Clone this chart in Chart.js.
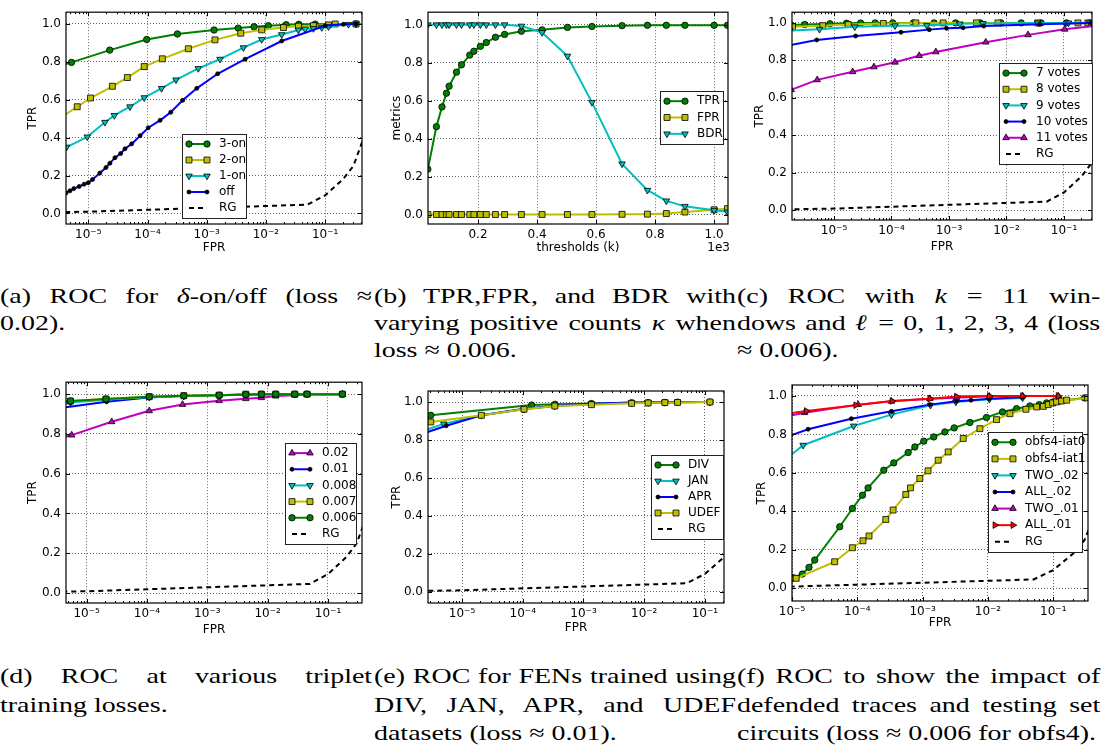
<!DOCTYPE html>
<html>
<head>
<meta charset="utf-8">
<script src="https://cdn.jsdelivr.net/npm/chart.js@4.4.1/dist/chart.umd.min.js"></script>
<style>
body { margin: 0; background: #fff; width: 1102px; height: 755px; position: relative; overflow: hidden; }
canvas { position: absolute; }
.cap { position: absolute; font-family: "Liberation Serif", "DejaVu Serif", serif; font-size: 22px; color: #000; transform: scaleX(1.27); transform-origin: 0 0; }
.cap div { white-space: nowrap; }
.cap .j { text-align: justify; text-align-last: justify; }
</style>
</head>
<body>
<canvas id="ca" width="370" height="260" style="left:0;top:0"></canvas>
<canvas id="cb" width="365" height="260" style="left:370px;top:0"></canvas>
<canvas id="cc" width="367" height="260" style="left:735px;top:0"></canvas>
<canvas id="cd" width="370" height="270" style="left:0;top:370px"></canvas>
<canvas id="ce" width="365" height="270" style="left:370px;top:370px"></canvas>
<canvas id="cf" width="367" height="270" style="left:735px;top:370px"></canvas>

<div class="cap" style="left:0;top:282px;width:293px;line-height:27px">
  <div class="j">(a) ROC for <i>δ</i>-on/off (loss ≈</div>
  <div>0.02).</div>
</div>
<div class="cap" style="left:374px;top:282px;width:285px;line-height:27px">
  <div class="j">(b) TPR,FPR, and BDR with</div>
  <div class="j">varying positive counts <i>κ</i> when</div>
  <div>loss ≈ 0.006.</div>
</div>
<div class="cap" style="left:737px;top:282px;width:286px;line-height:27px">
  <div class="j">(c) ROC with <i>k</i> = 11 win-</div>
  <div class="j">dows and <i>ℓ</i> = 0, 1, 2, 3, 4 (loss</div>
  <div>≈ 0.006).</div>
</div>
<div class="cap" style="left:0;top:662px;width:293px;line-height:28.5px">
  <div class="j">(d) ROC at various triplet</div>
  <div>training losses.</div>
</div>
<div class="cap" style="left:374px;top:662px;width:285px;line-height:28.5px">
  <div class="j">(e) ROC for FENs trained using</div>
  <div class="j">DIV, JAN, APR, and UDEF</div>
  <div>datasets (loss ≈ 0.01).</div>
</div>
<div class="cap" style="left:737px;top:662px;width:286px;line-height:28.5px">
  <div class="j">(f) ROC to show the impact of</div>
  <div class="j">defended traces and testing set</div>
  <div>circuits (loss ≈ 0.006 for obfs4).</div>
</div>

<script>
// tick values
const logTicks = [1e-5, 1e-4, 1e-3, 1e-2, 1e-1];
const rateTicks = [0, 0.2, 0.4, 0.6, 0.8, 1.0];
const thrTicks = [0.2, 0.4, 0.6, 0.8, 1.0];

// random guess curve (shared by the ROC plots)
const rgX = [1e-6, 1e-5, 1e-4, 1e-3, 1e-2, 0.05, 0.1, 0.2, 0.3, 0.45];
const rgY = [0.004, 0.009, 0.019, 0.029, 0.039, 0.046, 0.095, 0.18, 0.25, 0.4];

// (a) delta-on/off
const a3onX = [3e-6, 5.2e-6, 2.3e-5, 9.7e-5, 3.2e-4, 1.33e-3, 3.4e-3, 6.3e-3, 1.1e-2, 2.2e-2, 3.6e-2, 6.8e-2, 0.33];
const a3onY = [0.775, 0.797, 0.862, 0.918, 0.947, 0.968, 0.978, 0.985, 0.991, 0.996, 0.998, 0.999, 1.0];
const a2onX = [3.2e-6, 6.5e-6, 1.09e-5, 2.55e-5, 4.56e-5, 8.8e-5, 1.78e-4, 4.9e-4, 1.38e-3, 3.76e-3, 8.5e-3, 1.98e-2, 3.54e-2, 6.35e-2, 0.114, 0.148, 0.334];
const a2onY = [0.50, 0.563, 0.609, 0.671, 0.717, 0.775, 0.816, 0.869, 0.916, 0.951, 0.969, 0.981, 0.988, 0.991, 0.995, 1.0, 1.0];
const a1onX = [4.3e-6, 9.6e-6, 1.91e-5, 2.75e-5, 5.06e-5, 8.8e-5, 1.73e-4, 3.03e-4, 7.2e-4, 1.68e-3, 4.17e-3, 8.5e-3, 1.85e-2, 3.54e-2, 4.59e-2, 6.35e-2, 8.79e-2, 0.114, 0.248, 0.334];
const a1onY = [0.35, 0.404, 0.481, 0.517, 0.563, 0.611, 0.660, 0.705, 0.765, 0.814, 0.875, 0.918, 0.944, 0.968, 0.973, 0.976, 0.981, 0.986, 0.998, 1.0];
const aOffX = [4.2e-6, 4.9e-6, 5.7e-6, 7.0e-6, 8.5e-6, 1.0e-5, 1.18e-5, 1.57e-5, 1.99e-5, 2.32e-5, 2.82e-5, 3.52e-5, 4.17e-5, 5.4e-5, 7.5e-5, 1.03e-4, 1.63e-4, 2.47e-4, 3.93e-4, 6.8e-4, 1.53e-3, 4.45e-3, 1.85e-2, 0.1, 0.204, 0.334];
const aOffY = [0.108, 0.119, 0.131, 0.142, 0.154, 0.162, 0.179, 0.213, 0.242, 0.265, 0.294, 0.316, 0.341, 0.367, 0.410, 0.452, 0.491, 0.534, 0.597, 0.660, 0.737, 0.814, 0.910, 0.99, 0.998, 1.0];

// (b) thresholds (x in units of 1e3)
const bThr = [0.03, 0.059, 0.078, 0.093, 0.102, 0.127, 0.144, 0.172, 0.186, 0.208, 0.228, 0.259, 0.29, 0.347, 0.417, 0.503, 0.586, 0.688, 0.774, 0.838, 0.901, 1.0, 1.045];
const bTPR = [0.239, 0.463, 0.567, 0.639, 0.676, 0.75, 0.789, 0.84, 0.86, 0.886, 0.906, 0.934, 0.949, 0.966, 0.973, 0.986, 0.991, 0.995, 0.997, 0.997, 0.997, 0.997, 0.997];
const bFPR = [0, 0, 0, 0, 0, 0, 0, 0, 0, 0, 0, 0, 0, 0, 0, 0, 0, 0.001, 0.002, 0.005, 0.013, 0.025, 0.031];
const bBDR = [1, 1, 1, 1, 1, 1, 1, 1, 1, 1, 1, 1, 1, 0.993, 0.959, 0.835, 0.591, 0.267, 0.128, 0.072, 0.043, 0.022, 0.014];

// (c) votes
const c7X = [1.8e-6, 3.1e-6, 8.5e-6, 1.66e-5, 2.9e-5, 5.2e-5, 1.05e-4, 2.4e-4, 5.5e-4, 1.3e-3, 3.5e-3, 8e-3, 1.8e-2, 4e-2, 0.11, 0.28];
const c7Y = [0.988, 0.991, 0.995, 0.998, 0.999, 1.0, 1.0, 1.0, 1.0, 1.0, 1.0, 1.0, 1.0, 1.0, 1.0, 1.0];
const c8X = [1.9e-6, 6.4e-6, 1.77e-5, 7.2e-5, 2.65e-4, 7.9e-4, 3.0e-3, 7.1e-3, 3.5e-2, 0.175, 0.26];
const c8Y = [0.979, 0.985, 0.991, 0.997, 1.0, 1.0, 1.0, 1.0, 1.0, 1.0, 1.0];
const c9X = [1.7e-6, 5.6e-6, 2.3e-5, 1.15e-4, 4.1e-4, 1.54e-3, 3.9e-3, 3.5e-2, 0.12, 0.28];
const c9Y = [0.959, 0.966, 0.979, 0.985, 0.986, 0.995, 0.997, 1.0, 1.0, 1.0];
const c10X = [1.72e-6, 5.0e-6, 2.38e-5, 1.46e-4, 4.53e-4, 9.06e-4, 1.76e-3, 4.03e-3, 3.78e-2, 0.3];
const c10Y = [0.881, 0.909, 0.93, 0.950, 0.964, 0.971, 0.974, 0.983, 0.993, 1.0];
const c11X = [1.8e-6, 5.1e-6, 2.11e-5, 4.95e-5, 1.15e-4, 3.03e-4, 5.9e-4, 4.36e-3, 2.37e-2, 0.103, 1.0];
const c11Y = [0.643, 0.696, 0.739, 0.765, 0.790, 0.825, 0.845, 0.897, 0.936, 0.966, 1.0];

// (d) training losses
const d02X = [4e-6, 5.65e-6, 2.6e-5, 1.09e-4, 3.88e-4, 1.57e-3, 4.34e-3, 7.88e-3, 1.36e-2, 2.81e-2, 4.49e-2, 0.173];
const d02Y = [0.782, 0.794, 0.861, 0.916, 0.948, 0.967, 0.977, 0.982, 0.990, 0.995, 0.998, 1.0];
const d01X = [4e-6, 2.14e-5, 1.05e-4, 3.98e-4, 1.57e-3, 4.34e-3, 7.88e-3, 1.36e-2, 2.81e-2, 4.49e-2, 0.173];
const d01Y = [0.932, 0.962, 0.983, 0.99, 0.995, 0.997, 0.998, 0.999, 1.0, 1.0, 1.0];
const dLowX = [4e-6, 5.4e-6, 2.09e-5, 1.09e-4, 4.08e-4, 1.57e-3, 4.34e-3, 7.88e-3, 1.36e-2, 2.81e-2, 4.49e-2, 0.173];
const d008Y = [0.955, 0.958, 0.972, 0.985, 0.99, 0.995, 0.998, 0.999, 1.0, 1.0, 1.0, 1.0];
const d007Y = [0.962, 0.965, 0.975, 0.987, 0.992, 0.995, 1.0, 1.0, 1.0, 1.0, 1.0, 1.0];
const d006Y = [0.963, 0.966, 0.976, 0.987, 0.992, 0.995, 0.998, 1.0, 1.0, 1.0, 1.0, 1.0];

// (e) training datasets
const eDivX = [1.5e-6, 3.05e-6, 1.4e-4, 3.4e-4, 1.35e-3, 6.2e-3, 1.16e-2, 2.19e-2, 3.54e-2, 0.121];
const eDivY = [0.92, 0.930, 0.984, 0.988, 0.992, 0.996, 0.997, 0.998, 0.999, 1.0];
const eJanX = [1.5e-6, 4.99e-6, 2.08e-5, 1.05e-4, 3.37e-4, 1.35e-3, 6.2e-3, 1.16e-2, 2.19e-2, 3.54e-2, 0.121];
const eJanY = [0.829, 0.885, 0.93, 0.962, 0.979, 0.99, 0.996, 0.997, 0.998, 0.999, 1.0];
const eAprX = [1.5e-6, 5.5e-6, 2.08e-5, 1.05e-4, 3.37e-4, 1.35e-3, 6.2e-3, 1.16e-2, 2.19e-2, 3.54e-2, 0.121];
const eAprY = [0.815, 0.875, 0.93, 0.965, 0.98, 0.991, 0.997, 0.998, 0.999, 1.0, 1.0];
const eUdefX = [1.5e-6, 3.05e-6, 2.08e-5, 1.05e-4, 3.37e-4, 1.35e-3, 6.2e-3, 1.16e-2, 2.19e-2, 3.54e-2, 0.121];
const eUdefY = [0.895, 0.895, 0.93, 0.962, 0.979, 0.986, 0.993, 0.995, 0.997, 0.998, 1.0];

// (f) defended traces / circuits
const fIat0X = [1.0e-5, 1.04e-5, 1.44e-5, 1.82e-5, 2.23e-5, 5.38e-5, 8.41e-5, 1.2e-4, 1.46e-4, 2.54e-4, 3.61e-4, 6.0e-4, 7.6e-4, 1.04e-3, 1.48e-3, 2.19e-3, 3.04e-3, 5.28e-3, 9.5e-3, 1.67e-2, 2.74e-2, 4.38e-2, 6.1e-2, 7.9e-2, 0.1, 0.126, 0.3];
const fIat0Y = [0.052, 0.055, 0.074, 0.109, 0.147, 0.32, 0.415, 0.484, 0.522, 0.614, 0.652, 0.706, 0.735, 0.765, 0.787, 0.813, 0.834, 0.862, 0.888, 0.917, 0.934, 0.948, 0.955, 0.964, 0.969, 0.974, 0.99];
const fIat1X = [8e-6, 1.16e-5, 4.5e-5, 8.4e-5, 1.22e-4, 1.51e-4, 2.73e-4, 3.53e-4, 5.52e-4, 6.51e-4, 9.05e-4, 1.21e-3, 1.73e-3, 2.46e-3, 4.18e-3, 7.52e-3, 1.35e-2, 2.17e-2, 3.81e-2, 5.55e-2, 7.03e-2, 8.38e-2, 9.77e-2, 0.112, 0.134, 0.16, 0.336];
const fIat1Y = [0.045, 0.052, 0.138, 0.211, 0.247, 0.272, 0.358, 0.407, 0.488, 0.522, 0.571, 0.611, 0.666, 0.709, 0.779, 0.83, 0.877, 0.908, 0.931, 0.943, 0.946, 0.955, 0.964, 0.969, 0.974, 0.978, 0.99];
const fTwo02X = [8e-6, 1.48e-5, 8.8e-5, 3.33e-4, 1.32e-3, 3.22e-3, 1.05e-2, 3.39e-2];
const fTwo02Y = [0.67, 0.744, 0.844, 0.903, 0.952, 0.969, 0.983, 0.99];
const fAll02X = [8e-6, 1.76e-5, 8.1e-5, 3.33e-4, 1.29e-3, 3.3e-3, 5.5e-3, 1.05e-2, 3.39e-2];
const fAll02Y = [0.785, 0.827, 0.882, 0.92, 0.955, 0.972, 0.978, 0.986, 0.993];
const fTwo01X = [8e-6, 1.56e-5, 1.03e-4, 3.33e-4, 1.29e-3, 3.3e-3, 1.05e-2, 3.39e-2, 0.119];
const fTwo01Y = [0.893, 0.913, 0.955, 0.972, 0.986, 0.991, 0.998, 1.0, 1.0];
const fAll01X = [8e-6, 1.66e-5, 9.5e-5, 3.41e-4, 1.29e-3, 3.3e-3, 1.05e-2, 3.39e-2, 0.119];
const fAll01Y = [0.907, 0.922, 0.952, 0.974, 0.986, 0.997, 1.0, 1.0, 1.0];

// matplotlib classic colours
const C = { g: '#008000', y: '#bfbf00', c: '#00bfbf', b: '#0000ff', m: '#bf00bf', r: '#ff0000', k: '#000000' };
const MK = {
  circle: { style: 'circle', r: 3.2, rot: 0 },
  square: { style: 'rect', r: 4.2, rot: 0 },
  down: { style: 'triangle', r: 3.8, rot: 180 },
  up: { style: 'triangle', r: 3.8, rot: 0 },
  right: { style: 'triangle', r: 3.8, rot: 90 },
  dot: { style: 'circle', r: 2, rot: 0, fill: '#000' }
};
const FONT = '"DejaVu Sans", sans-serif';

const sup = { '-': '\u207B', '0': '\u2070', '1': '\u00B9', '2': '\u00B2', '3': '\u00B3', '4': '\u2074', '5': '\u2075', '6': '\u2076', '7': '\u2077', '8': '\u2078', '9': '\u2079' };
function powLabel(v) {
  const e = Math.round(Math.log10(v));
  return '10' + String(e).split('').map(ch => sup[ch]).join('');
}

function line(label, xs, ys, color, mk, dashed) {
  return { label, xs, ys, color, mk, dashed };
}

function toDataset(s, order) {
  const m = s.mk ? MK[s.mk] : null;
  return {
    label: s.label,
    data: s.xs.map((x, i) => ({ x: x, y: s.ys[i] })),
    showLine: true,
    borderColor: s.color,
    backgroundColor: s.color,
    borderWidth: 2,
    borderDash: s.dashed ? [5, 4] : [],
    pointStyle: m ? m.style : false,
    pointRadius: m ? m.r : 0,
    pointRotation: m ? m.rot : 0,
    pointBackgroundColor: m && m.fill ? m.fill : s.color,
    pointBorderColor: '#000',
    pointBorderWidth: 0.8,
    order: order
  };
}

// inward ticks on all four sides plus the axes box
const frame = {
  id: 'frame',
  afterDraw(chart, args, opts) {
    const { ctx, chartArea: a } = chart;
    const sx = chart.scales.x, sy = chart.scales.y;
    ctx.save();
    ctx.strokeStyle = '#000';
    ctx.lineWidth = 1;
    ctx.beginPath();
    const xt = (v, len) => {
      const p = Math.round(sx.getPixelForValue(v)) + 0.5;
      ctx.moveTo(p, a.bottom); ctx.lineTo(p, a.bottom - len);
      ctx.moveTo(p, a.top); ctx.lineTo(p, a.top + len);
    };
    const yt = (v, len) => {
      const p = Math.round(sy.getPixelForValue(v)) + 0.5;
      ctx.moveTo(a.left, p); ctx.lineTo(a.left + len, p);
      ctx.moveTo(a.right, p); ctx.lineTo(a.right - len, p);
    };
    sx.ticks.forEach(t => xt(t.value, 4));
    if (sx.type === 'logarithmic') {
      for (let e = Math.floor(Math.log10(sx.min)); e <= Math.ceil(Math.log10(sx.max)); e++) {
        for (let k = 2; k < 10; k++) {
          const v = k * Math.pow(10, e);
          if (v > sx.min && v < sx.max) xt(v, 2);
        }
      }
    }
    sy.ticks.forEach(t => yt(t.value, 4));
    ctx.stroke();
    ctx.lineWidth = 1.2;
    ctx.strokeRect(a.left, a.top, a.right - a.left, a.bottom - a.top);
    if (opts.offsetText) {
      ctx.fillStyle = '#000';
      ctx.font = '12px ' + FONT;
      ctx.textAlign = 'right';
      ctx.textBaseline = 'middle';
      ctx.fillText(opts.offsetText, a.right + 2, a.bottom + 24);
    }
    ctx.restore();
  }
};

// matplotlib style boxed legend with two markers per entry
const boxLegend = {
  id: 'boxLegend',
  afterDraw(chart, args, opts) {
    if (!opts.box) return;
    const ctx = chart.ctx;
    const [bx, by, bw, bh] = opts.box;
    const sets = chart.data.datasets;
    ctx.save();
    ctx.fillStyle = '#fff';
    ctx.fillRect(bx, by, bw, bh);
    ctx.strokeStyle = '#222';
    ctx.lineWidth = 1;
    ctx.strokeRect(bx + 0.5, by + 0.5, bw, bh);
    const rh = (bh - 4) / sets.length;
    sets.forEach((ds, i) => {
      const cy = by + 2 + rh * (i + 0.5);
      const x0 = bx + 7, x1 = bx + 25;
      ctx.strokeStyle = ds.borderColor;
      ctx.lineWidth = ds.borderWidth;
      ctx.setLineDash(ds.borderDash);
      ctx.beginPath(); ctx.moveTo(x0, cy); ctx.lineTo(x1, cy); ctx.stroke();
      ctx.setLineDash([]);
      if (ds.pointRadius > 0) {
        [x0, x1].forEach(px => {
          ctx.fillStyle = ds.pointBackgroundColor;
          ctx.strokeStyle = ds.pointBorderColor;
          ctx.lineWidth = ds.pointBorderWidth;
          Chart.helpers.drawPoint(ctx, { pointStyle: ds.pointStyle, rotation: ds.pointRotation, radius: ds.pointRadius, borderWidth: ds.pointBorderWidth }, px, cy);
        });
      }
      ctx.fillStyle = '#000';
      ctx.font = '12px ' + FONT;
      ctx.textAlign = 'left';
      ctx.textBaseline = 'middle';
      ctx.fillText(ds.label, bx + 37, cy);
    });
    ctx.restore();
  }
};

function makeChart(id, cfg) {
  const n = cfg.series.length;
  return new Chart(document.getElementById(id), {
    type: 'scatter',
    data: { datasets: cfg.series.map((s, i) => toDataset(s, n - i)) },
    options: {
      responsive: false,
      animation: false,
      events: [],
      layout: { padding: { left: 0, top: cfg.padTop, right: cfg.padRight, bottom: 0 } },
      plugins: {
        legend: { display: false },
        tooltip: { enabled: false },
        frame: { offsetText: cfg.offsetText },
        boxLegend: { box: cfg.legend }
      },
      scales: {
        x: {
          type: cfg.xType,
          min: cfg.xRange[0],
          max: cfg.xRange[1],
          afterBuildTicks: s => { s.ticks = cfg.xTicks.map(v => ({ value: v })); },
          afterFit: s => { s.height = cfg.xH; },
          ticks: { callback: cfg.xLabel, color: '#000', font: { family: FONT, size: 12 }, padding: 4, maxRotation: 0, autoSkip: false },
          grid: { color: 'rgba(0,0,0,0.6)', lineWidth: 1, drawTicks: false },
          border: { display: false, dash: [1, 2] },
          title: { display: true, text: cfg.xTitle, color: '#000', font: { family: FONT, size: 12 }, padding: { top: 0, bottom: cfg.xTitlePad } }
        },
        y: {
          type: 'linear',
          min: cfg.yRange[0],
          max: cfg.yRange[1],
          afterBuildTicks: s => { s.ticks = rateTicks.map(v => ({ value: v })); },
          afterFit: s => { s.width = cfg.yW; },
          ticks: { callback: v => v.toFixed(1), color: '#000', font: { family: FONT, size: 12 }, padding: 5 },
          grid: { color: 'rgba(0,0,0,0.6)', lineWidth: 1, drawTicks: false },
          border: { display: false, dash: [1, 2] },
          title: { display: true, text: cfg.yTitle, color: '#000', font: { family: FONT, size: 12 }, padding: { top: cfg.yTitlePad, bottom: 0 } }
        }
      }
    },
    plugins: [frame, boxLegend]
  });
}

const rg = () => line('RG', rgX, rgY, C.k, null, true);

makeChart('ca', {
  xType: 'logarithmic', xRange: [4.2e-6, 0.42], xTicks: logTicks, xLabel: powLabel,
  yRange: [-0.056, 1.062], padTop: 6, padRight: 8, yW: 66, xH: 36,
  yTitle: 'TPR', yTitlePad: 26, xTitle: 'FPR', xTitlePad: 5,
  legend: [182, 134, 64, 84],
  series: [
    line('3-on', a3onX, a3onY, C.g, 'circle'),
    line('2-on', a2onX, a2onY, C.y, 'square'),
    line('1-on', a1onX, a1onY, C.c, 'down'),
    line('off', aOffX, aOffY, C.b, 'dot'),
    rg()
  ]
});

makeChart('cb', {
  xType: 'linear', xRange: [0.0305, 1.047], xTicks: thrTicks, xLabel: v => v.toFixed(1),
  yRange: [-0.05, 1.066], padTop: 6, padRight: 7, yW: 58, xH: 36,
  yTitle: 'metrics', yTitlePad: 20, xTitle: 'thresholds (k)', xTitlePad: 5,
  offsetText: '1e3',
  legend: [290, 91, 63, 53],
  series: [
    line('TPR', bThr, bTPR, C.g, 'circle'),
    line('FPR', bThr, bFPR, C.y, 'square'),
    line('BDR', bThr, bBDR, C.c, 'down')
  ]
});

makeChart('cc', {
  xType: 'logarithmic', xRange: [1.86e-6, 0.307], xTicks: logTicks, xLabel: powLabel,
  yRange: [-0.052, 1.057], padTop: 5, padRight: 10, yW: 57, xH: 40,
  yTitle: 'TPR', yTitlePad: 18, xTitle: 'FPR', xTitlePad: 6,
  legend: [264, 63, 93, 101],
  series: [
    line('7 votes', c7X, c7Y, C.g, 'circle'),
    line('8 votes', c8X, c8Y, C.y, 'square'),
    line('9 votes', c9X, c9Y, C.c, 'down'),
    line('10 votes', c10X, c10Y, C.b, 'dot'),
    line('11 votes', c11X, c11Y, C.m, 'up'),
    rg()
  ]
});

makeChart('cd', {
  xType: 'logarithmic', xRange: [4.55e-6, 0.366], xTicks: logTicks, xLabel: powLabel,
  yRange: [-0.05, 1.06], padTop: 12, padRight: 8, yW: 66, xH: 37,
  yTitle: 'TPR', yTitlePad: 26, xTitle: 'FPR', xTitlePad: 3,
  legend: [285, 73, 71, 101],
  series: [
    line('0.02', d02X, d02Y, C.m, 'up'),
    line('0.01', d01X, d01Y, C.b, 'dot'),
    line('0.008', dLowX, d008Y, C.c, 'down'),
    line('0.007', dLowX, d007Y, C.y, 'square'),
    line('0.006', dLowX, d006Y, C.g, 'circle'),
    rg()
  ]
});

makeChart('ce', {
  xType: 'logarithmic', xRange: [2.75e-6, 0.206], xTicks: logTicks, xLabel: powLabel,
  yRange: [-0.058, 1.058], padTop: 21, padRight: 11, yW: 58, xH: 37,
  yTitle: 'TPR', yTitlePad: 20, xTitle: 'FPR', xTitlePad: 5,
  legend: [281, 85, 72, 84],
  series: [
    line('DIV', eDivX, eDivY, C.g, 'circle'),
    line('JAN', eJanX, eJanY, C.c, 'down'),
    line('APR', eAprX, eAprY, C.b, 'dot'),
    line('UDEF', eUdefX, eUdefY, C.y, 'square'),
    rg()
  ]
});

makeChart('cf', {
  xType: 'logarithmic', xRange: [1e-5, 0.34], xTicks: logTicks, xLabel: powLabel,
  yRange: [-0.066, 1.057], padTop: 15, padRight: 14, yW: 57, xH: 39,
  yTitle: 'TPR', yTitlePad: 20, xTitle: 'FPR', xTitlePad: 10,
  legend: [253, 62, 94, 120],
  series: [
    line('obfs4-iat0', fIat0X, fIat0Y, C.g, 'circle'),
    line('obfs4-iat1', fIat1X, fIat1Y, C.y, 'square'),
    line('TWO_.02', fTwo02X, fTwo02Y, C.c, 'down'),
    line('ALL_.02', fAll02X, fAll02Y, C.b, 'dot'),
    line('TWO_.01', fTwo01X, fTwo01Y, C.m, 'up'),
    line('ALL_.01', fAll01X, fAll01Y, C.r, 'right'),
    rg()
  ]
});
</script>
</body>
</html>
